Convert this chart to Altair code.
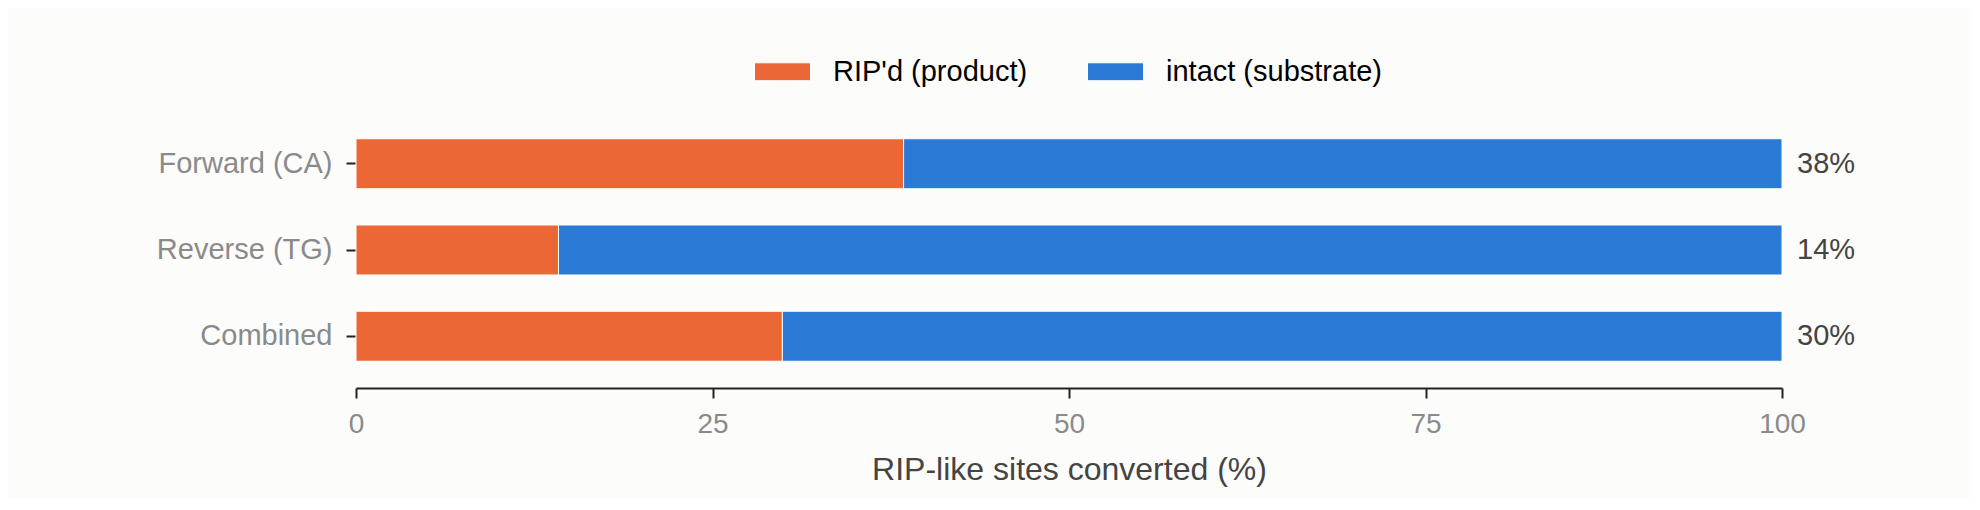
import pandas as pd
import altair as alt

OUTPUT_FILE = "out.html"

ORANGE = "#EB6836"
BLUE = "#2A7AD6"
GREY = "#8a8a8a"
DARK = "#222222"
BG = "#fcfcfa"
FONT = "Liberation Sans"

# data
strands = ["Forward (CA)", "Reverse (TG)", "Combined"]
ripd_pct = [38.4, 14.2, 29.9]
pct_labels = ["38%", "14%", "30%"]
parts = ["RIP'd (product)", "intact (substrate)"]

rows = []
for s, r in zip(strands, ripd_pct):
    rows.append({"Strand": s, "Part": parts[0], "Value": r, "Order": 0})
    rows.append({"Strand": s, "Part": parts[1], "Value": 100 - r, "Order": 1})
df = pd.DataFrame(rows)

labels_df = pd.DataFrame({"Strand": strands, "Label": pct_labels, "End": [100] * 3})

y_enc = alt.Y(
    "Strand:N",
    sort=strands,
    title=None,
    scale=alt.Scale(paddingInner=0.42, paddingOuter=0.31),
    axis=alt.Axis(
        domain=False, tickColor=DARK, tickWidth=2, tickSize=10,
        labelColor=GREY, labelFontSize=29, labelFont=FONT, labelPadding=14,
    ),
)

bars = (
    alt.Chart(df)
    .mark_bar(stroke="white", strokeWidth=1)
    .encode(
        x=alt.X(
            "Value:Q",
            stack="zero",
            title="RIP-like sites converted (%)",
            scale=alt.Scale(domain=[0, 100], nice=False),
            axis=alt.Axis(
                values=[0, 25, 50, 75, 100], grid=False, labelFlush=False,
                domainColor=DARK, domainWidth=2,
                tickColor=DARK, tickWidth=2, tickSize=10,
                labelColor=GREY, labelFontSize=28, labelFont=FONT, labelPadding=12,
                titleColor="#444444", titleFontSize=32, titleFont=FONT,
                titleFontWeight="normal", titlePadding=16,
            ),
        ),
        y=y_enc,
        color=alt.Color(
            "Part:N",
            scale=alt.Scale(domain=parts, range=[ORANGE, BLUE]),
            title=None,
            legend=alt.Legend(
                orient="none", direction="horizontal", legendX=398, legendY=-69,
                symbolType="M-1,-0.32H1V0.32H-1Z", symbolSize=3136,
                symbolStrokeColor="white", symbolStrokeWidth=1, symbolOpacity=1,
                labelFontSize=29, labelFont=FONT, labelColor="black",
                labelOffset=22, columnPadding=57, labelLimit=400,
            ),
        ),
        order=alt.Order("Order:Q"),
    )
)

text = (
    alt.Chart(labels_df)
    .mark_text(align="left", baseline="middle", dx=15, fontSize=29, font=FONT, color="#444444")
    .encode(x="End:Q", y=alt.Y("Strand:N", sort=strands), text="Label:N")
)

chart = (
    alt.layer(bars, text)
    .properties(
        width=1426,
        height=276,
        autosize=alt.AutoSizeParams(type="none"),
        padding={"left": 348, "top": 104, "right": 190, "bottom": 110},
        background=BG,
    )
    .configure_view(stroke=None)
)

chart.save(OUTPUT_FILE, embed_options={"renderer": "svg", "actions": False})
